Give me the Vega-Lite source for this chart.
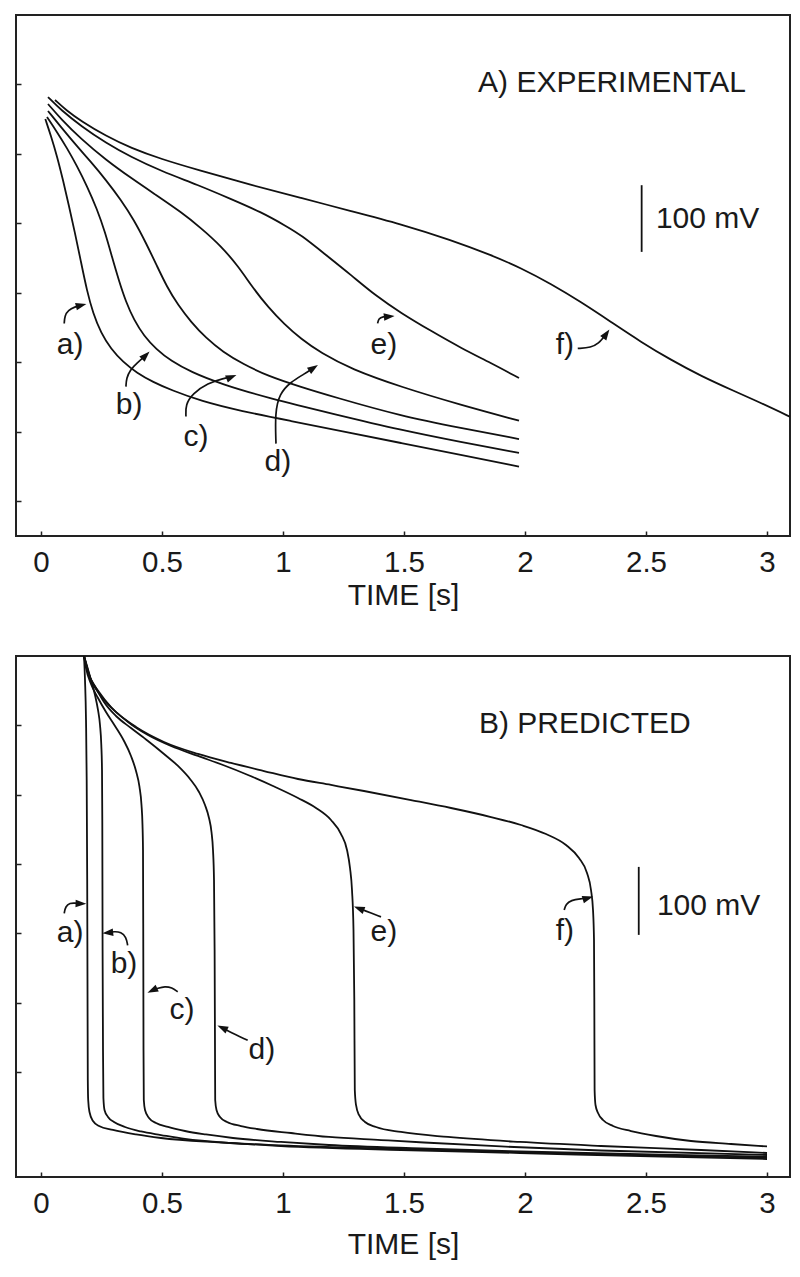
{
  "$schema": "https://vega.github.io/schema/vega-lite/v6.json",
  "background": "white",
  "padding": {"left": 14, "top": 14, "right": 5, "bottom": 5},
  "spacing": 120,
  "bounds": "flush",
  "config": {"view": {"stroke": "#222", "strokeWidth": 2}, "font": "Liberation Sans"},
  "datasets": {
    "curvesA": [
      {"c":"a","t":0.0178,"v":550.3},{"c":"a","t":0.0413,"v":525.8},{"c":"a","t":0.0661,"v":497.0},{"c":"a","t":0.0909,"v":462.5},{"c":"a","t":0.1157,"v":425.0},{"c":"a","t":0.1405,"v":386.2},{"c":"a","t":0.1653,"v":344.4},{"c":"a","t":0.1901,"v":302.7},{"c":"a","t":0.2149,"v":271.0},{"c":"a","t":0.2479,"v":242.2},{"c":"a","t":0.2893,"v":219.2},{"c":"a","t":0.3388,"v":200.5},{"c":"a","t":0.3967,"v":184.6},{"c":"a","t":0.4628,"v":171.7},{"c":"a","t":0.5372,"v":160.2},{"c":"a","t":0.6612,"v":144.3},{"c":"a","t":0.8264,"v":129.9},{"c":"a","t":1.0331,"v":115.5},{"c":"a","t":1.2397,"v":101.1},{"c":"a","t":1.4876,"v":83.9},{"c":"a","t":1.7355,"v":66.6},{"c":"a","t":1.9752,"v":49.8},
      {"c":"b","t":0.0248,"v":553.2},{"c":"b","t":0.0661,"v":531.6},{"c":"b","t":0.1074,"v":508.5},{"c":"b","t":0.1488,"v":482.6},{"c":"b","t":0.1901,"v":453.8},{"c":"b","t":0.2314,"v":420.7},{"c":"b","t":0.2645,"v":387.6},{"c":"b","t":0.2934,"v":351.6},{"c":"b","t":0.3223,"v":317.1},{"c":"b","t":0.3512,"v":286.8},{"c":"b","t":0.3843,"v":260.9},{"c":"b","t":0.4256,"v":237.9},{"c":"b","t":0.4752,"v":219.2},{"c":"b","t":0.5372,"v":201.9},{"c":"b","t":0.6198,"v":186.1},{"c":"b","t":0.7438,"v":168.8},{"c":"b","t":0.9380,"v":148.7},{"c":"b","t":1.2107,"v":125.6},{"c":"b","t":1.4876,"v":102.6},{"c":"b","t":1.7355,"v":85.3},{"c":"b","t":1.9752,"v":69.5},
      {"c":"c","t":0.0289,"v":561.8},{"c":"c","t":0.0826,"v":538.8},{"c":"c","t":0.1446,"v":512.8},{"c":"c","t":0.2066,"v":488.4},{"c":"c","t":0.2686,"v":462.5},{"c":"c","t":0.3306,"v":433.7},{"c":"c","t":0.3843,"v":404.9},{"c":"c","t":0.4339,"v":371.8},{"c":"c","t":0.4793,"v":338.7},{"c":"c","t":0.5207,"v":308.4},{"c":"c","t":0.5661,"v":282.5},{"c":"c","t":0.6198,"v":258.1},{"c":"c","t":0.6818,"v":235.0},{"c":"c","t":0.7521,"v":214.9},{"c":"c","t":0.8347,"v":197.6},{"c":"c","t":0.9380,"v":180.3},{"c":"c","t":1.0744,"v":164.5},{"c":"c","t":1.2107,"v":150.1},{"c":"c","t":1.4876,"v":122.7},{"c":"c","t":1.7355,"v":105.5},{"c":"c","t":1.9752,"v":89.6},
      {"c":"d","t":0.0289,"v":571.9},{"c":"d","t":0.0826,"v":550.3},{"c":"d","t":0.1653,"v":521.5},{"c":"d","t":0.2686,"v":491.3},{"c":"d","t":0.3719,"v":465.3},{"c":"d","t":0.4752,"v":440.9},{"c":"d","t":0.5785,"v":416.4},{"c":"d","t":0.6612,"v":393.4},{"c":"d","t":0.7438,"v":367.5},{"c":"d","t":0.8140,"v":338.7},{"c":"d","t":0.8760,"v":307.0},{"c":"d","t":0.9380,"v":279.6},{"c":"d","t":1.0041,"v":255.2},{"c":"d","t":1.0744,"v":233.6},{"c":"d","t":1.1570,"v":213.4},{"c":"d","t":1.2810,"v":190.4},{"c":"d","t":1.4876,"v":164.5},{"c":"d","t":1.7355,"v":138.6},{"c":"d","t":1.9752,"v":116.0},
      {"c":"e","t":0.0289,"v":581.9},{"c":"e","t":0.0826,"v":563.2},{"c":"e","t":0.1653,"v":540.2},{"c":"e","t":0.2686,"v":515.7},{"c":"e","t":0.3719,"v":495.6},{"c":"e","t":0.4959,"v":475.4},{"c":"e","t":0.6488,"v":455.3},{"c":"e","t":0.7851,"v":435.1},{"c":"e","t":0.9091,"v":416.4},{"c":"e","t":1.0124,"v":396.2},{"c":"e","t":1.0744,"v":383.3},{"c":"e","t":1.1777,"v":354.5},{"c":"e","t":1.2810,"v":325.7},{"c":"e","t":1.3843,"v":295.5},{"c":"e","t":1.4876,"v":271.0},{"c":"e","t":1.6116,"v":245.1},{"c":"e","t":1.7355,"v":220.6},{"c":"e","t":1.8595,"v":199.0},{"c":"e","t":1.9752,"v":177.4},
      {"c":"f","t":0.0579,"v":577.6},{"c":"f","t":0.1033,"v":563.2},{"c":"f","t":0.1653,"v":547.4},{"c":"f","t":0.2686,"v":525.8},{"c":"f","t":0.3719,"v":508.5},{"c":"f","t":0.4959,"v":492.7},{"c":"f","t":0.6488,"v":476.9},{"c":"f","t":0.8678,"v":455.3},{"c":"f","t":1.0744,"v":436.6},{"c":"f","t":1.2810,"v":417.8},{"c":"f","t":1.4876,"v":399.1},{"c":"f","t":1.6942,"v":376.1},{"c":"f","t":1.8595,"v":354.5},{"c":"f","t":1.9835,"v":335.8},{"c":"f","t":2.1074,"v":312.8},{"c":"f","t":2.2314,"v":286.8},{"c":"f","t":2.3554,"v":258.1},{"c":"f","t":2.4793,"v":229.3},{"c":"f","t":2.6033,"v":203.4},{"c":"f","t":2.7273,"v":180.3},{"c":"f","t":2.8636,"v":158.7},{"c":"f","t":2.9752,"v":141.5},{"c":"f","t":3.0950,"v":121.7},{"c":"f","t":3.1405,"v":114.1}
    ],
    "curvesB": [
      {"c":"a","t":0.1777,"v":600},{"c":"a","t":0.1818,"v":565.4},{"c":"a","t":0.1860,"v":507.8},{"c":"a","t":0.1888,"v":421.3},{"c":"a","t":0.1909,"v":277.1},{"c":"a","t":0.1921,"v":133.0},{"c":"a","t":0.1934,"v":-11.2},{"c":"a","t":0.1950,"v":-40.0},{"c":"a","t":0.2004,"v":-57.3},{"c":"a","t":0.2149,"v":-70.3},{"c":"a","t":0.2397,"v":-77.5},{"c":"a","t":0.2975,"v":-83.2},{"c":"a","t":0.3926,"v":-89.7},{"c":"a","t":0.4959,"v":-94.8},{"c":"a","t":0.7438,"v":-101.3},{"c":"a","t":0.9917,"v":-106.3},{"c":"a","t":1.4876,"v":-112.1},{"c":"a","t":1.9793,"v":-116.4},{"c":"a","t":2.5207,"v":-121.4},{"c":"a","t":3.0,"v":-125.1},
      {"c":"b","t":0.1777,"v":600},{"c":"b","t":0.1901,"v":585.6},{"c":"b","t":0.2066,"v":565.4},{"c":"b","t":0.2231,"v":543.8},{"c":"b","t":0.2355,"v":522.2},{"c":"b","t":0.2438,"v":500.6},{"c":"b","t":0.2492,"v":471.7},{"c":"b","t":0.2521,"v":435.7},{"c":"b","t":0.2533,"v":363.6},{"c":"b","t":0.2545,"v":176.2},{"c":"b","t":0.2562,"v":32.1},{"c":"b","t":0.2579,"v":-37.1},{"c":"b","t":0.2624,"v":-54.4},{"c":"b","t":0.2769,"v":-64.5},{"c":"b","t":0.3017,"v":-71.7},{"c":"b","t":0.3471,"v":-78.9},{"c":"b","t":0.4132,"v":-85.4},{"c":"b","t":0.4959,"v":-90.5},{"c":"b","t":0.5950,"v":-96.2},{"c":"b","t":0.7851,"v":-102.0},{"c":"b","t":0.9917,"v":-105.3},{"c":"b","t":1.4876,"v":-110.6},{"c":"b","t":1.9793,"v":-115.0},{"c":"b","t":2.5207,"v":-119.7},{"c":"b","t":3.0,"v":-123.6},
      {"c":"c","t":0.1777,"v":600},{"c":"c","t":0.1860,"v":582.7},{"c":"c","t":0.2066,"v":559.7},{"c":"c","t":0.2355,"v":539.5},{"c":"c","t":0.2686,"v":519.3},{"c":"c","t":0.3058,"v":499.1},{"c":"c","t":0.3430,"v":477.5},{"c":"c","t":0.3719,"v":455.9},{"c":"c","t":0.3926,"v":434.2},{"c":"c","t":0.4070,"v":411.2},{"c":"c","t":0.4153,"v":385.2},{"c":"c","t":0.4194,"v":356.4},{"c":"c","t":0.4215,"v":320.4},{"c":"c","t":0.4227,"v":176.2},{"c":"c","t":0.4236,"v":32.1},{"c":"c","t":0.4248,"v":-40.0},{"c":"c","t":0.4298,"v":-54.4},{"c":"c","t":0.4463,"v":-66.0},{"c":"c","t":0.4752,"v":-73.2},{"c":"c","t":0.5248,"v":-78.9},{"c":"c","t":0.5950,"v":-84.7},{"c":"c","t":0.6818,"v":-89.7},{"c":"c","t":0.7934,"v":-94.8},{"c":"c","t":0.9917,"v":-100.5},{"c":"c","t":1.1901,"v":-104.9},{"c":"c","t":1.5702,"v":-109.9},{"c":"c","t":1.9793,"v":-114.2},{"c":"c","t":2.5207,"v":-118.6},{"c":"c","t":3.0,"v":-121.7},
      {"c":"d","t":0.1777,"v":600},{"c":"d","t":0.1942,"v":577.0},{"c":"d","t":0.2273,"v":553.9},{"c":"d","t":0.2603,"v":533.7},{"c":"d","t":0.3099,"v":513.5},{"c":"d","t":0.3719,"v":496.2},{"c":"d","t":0.4421,"v":477.5},{"c":"d","t":0.5083,"v":458.8},{"c":"d","t":0.5661,"v":441.5},{"c":"d","t":0.6157,"v":422.7},{"c":"d","t":0.6529,"v":404.0},{"c":"d","t":0.6777,"v":385.2},{"c":"d","t":0.6942,"v":366.5},{"c":"d","t":0.7045,"v":346.3},{"c":"d","t":0.7107,"v":320.4},{"c":"d","t":0.7149,"v":277.1},{"c":"d","t":0.7174,"v":176.2},{"c":"d","t":0.7190,"v":32.1},{"c":"d","t":0.7198,"v":-40.0},{"c":"d","t":0.7252,"v":-54.4},{"c":"d","t":0.7397,"v":-64.5},{"c":"d","t":0.7686,"v":-71.7},{"c":"d","t":0.8264,"v":-77.5},{"c":"d","t":0.8926,"v":-81.8},{"c":"d","t":1.0331,"v":-87.6},{"c":"d","t":1.1901,"v":-93.3},{"c":"d","t":1.4050,"v":-97.7},{"c":"d","t":1.5826,"v":-101.3},{"c":"d","t":1.9008,"v":-107.0},{"c":"d","t":2.3140,"v":-112.8},{"c":"d","t":3.0,"v":-119.3},
      {"c":"e","t":0.1777,"v":600},{"c":"e","t":0.1983,"v":572.6},{"c":"e","t":0.2397,"v":548.1},{"c":"e","t":0.2893,"v":526.5},{"c":"e","t":0.3595,"v":504.9},{"c":"e","t":0.4421,"v":486.1},{"c":"e","t":0.5372,"v":470.3},{"c":"e","t":0.6488,"v":455.9},{"c":"e","t":0.7521,"v":442.9},{"c":"e","t":0.8554,"v":428.5},{"c":"e","t":0.9587,"v":412.6},{"c":"e","t":1.0620,"v":395.3},{"c":"e","t":1.1364,"v":380.9},{"c":"e","t":1.1983,"v":363.6},{"c":"e","t":1.2397,"v":343.4},{"c":"e","t":1.2645,"v":320.4},{"c":"e","t":1.2769,"v":294.4},{"c":"e","t":1.2851,"v":262.7},{"c":"e","t":1.2913,"v":205.1},{"c":"e","t":1.2946,"v":104.1},{"c":"e","t":1.2967,"v":-25.6},{"c":"e","t":1.3017,"v":-47.2},{"c":"e","t":1.3140,"v":-61.6},{"c":"e","t":1.3388,"v":-71.7},{"c":"e","t":1.3843,"v":-78.9},{"c":"e","t":1.4876,"v":-86.1},{"c":"e","t":1.6818,"v":-93.3},{"c":"e","t":1.9793,"v":-100.5},{"c":"e","t":2.3140,"v":-106.3},{"c":"e","t":2.7273,"v":-112.1},{"c":"e","t":3.0,"v":-116.4},
      {"c":"f","t":0.1777,"v":600},{"c":"f","t":0.2066,"v":565.4},{"c":"f","t":0.2479,"v":542.4},{"c":"f","t":0.3140,"v":517.9},{"c":"f","t":0.3926,"v":497.7},{"c":"f","t":0.5083,"v":476.1},{"c":"f","t":0.6488,"v":458.8},{"c":"f","t":0.7851,"v":445.8},{"c":"f","t":0.9215,"v":434.2},{"c":"f","t":1.0620,"v":422.7},{"c":"f","t":1.1983,"v":414.1},{"c":"f","t":1.3347,"v":405.4},{"c":"f","t":1.5289,"v":392.4},{"c":"f","t":1.6942,"v":380.9},{"c":"f","t":1.8595,"v":367.9},{"c":"f","t":1.9835,"v":356.4},{"c":"f","t":2.0868,"v":343.4},{"c":"f","t":2.1694,"v":327.6},{"c":"f","t":2.2231,"v":308.8},{"c":"f","t":2.2562,"v":287.2},{"c":"f","t":2.2727,"v":262.7},{"c":"f","t":2.2810,"v":233.9},{"c":"f","t":2.2851,"v":190.6},{"c":"f","t":2.2864,"v":104.1},{"c":"f","t":2.2876,"v":-25.6},{"c":"f","t":2.2913,"v":-47.2},{"c":"f","t":2.3017,"v":-58.7},{"c":"f","t":2.3223,"v":-68.8},{"c":"f","t":2.3636,"v":-77.5},{"c":"f","t":2.4380,"v":-84.7},{"c":"f","t":2.5413,"v":-91.9},{"c":"f","t":2.6860,"v":-99.1},{"c":"f","t":2.8512,"v":-103.4},{"c":"f","t":3.0,"v":-107.0}
    ],
    "arrowsA": [
      {"id":"a","i":0,"t":0.096,"v":256},{"id":"a","i":1,"t":0.098,"v":267},{"id":"a","i":2,"t":0.112,"v":275},{"id":"a","i":3,"t":0.140,"v":280},{"id":"a","i":4,"t":0.166,"v":282},
      {"id":"b","i":0,"t":0.351,"v":165},{"id":"b","i":1,"t":0.353,"v":177},{"id":"b","i":2,"t":0.368,"v":189},{"id":"b","i":3,"t":0.397,"v":199},{"id":"b","i":4,"t":0.433,"v":210},
      {"id":"c","i":0,"t":0.599,"v":122},{"id":"c","i":1,"t":0.597,"v":139},{"id":"c","i":2,"t":0.627,"v":155},{"id":"c","i":3,"t":0.689,"v":170},{"id":"c","i":4,"t":0.756,"v":177},{"id":"c","i":5,"t":0.787,"v":179},
      {"id":"d","i":0,"t":0.971,"v":83},{"id":"d","i":1,"t":0.967,"v":127},{"id":"d","i":2,"t":0.985,"v":155},{"id":"d","i":3,"t":1.033,"v":172},{"id":"d","i":4,"t":1.087,"v":183},{"id":"d","i":5,"t":1.126,"v":192},
      {"id":"e","i":0,"t":1.391,"v":256},{"id":"e","i":1,"t":1.395,"v":263},{"id":"e","i":2,"t":1.413,"v":266},{"id":"e","i":3,"t":1.439,"v":266},
      {"id":"f","i":0,"t":2.218,"v":220},{"id":"f","i":1,"t":2.273,"v":221},{"id":"f","i":2,"t":2.306,"v":228},{"id":"f","i":3,"t":2.322,"v":235},{"id":"f","i":4,"t":2.336,"v":241}
    ],
    "headsA": [
      {"t":0.166,"v":282,"ang":76},{"t":0.433,"v":210,"ang":45},{"t":0.787,"v":179,"ang":68},{"t":1.126,"v":192,"ang":56},{"t":1.439,"v":266,"ang":84},{"t":2.336,"v":241,"ang":35}
    ],
    "labelsA": [
      {"t":0.120,"v":225,"txt":"a)"},{"t":0.364,"v":139,"txt":"b)"},{"t":0.640,"v":92,"txt":"c)"},{"t":0.979,"v":56,"txt":"d)"},{"t":1.417,"v":225,"txt":"e)"},{"t":2.165,"v":225,"txt":"f)"}
    ],
    "notesA": [
      {"t":1.806,"v":589,"txt":"A) EXPERIMENTAL"},{"t":2.541,"v":394,"txt":"100 mV"}
    ],
    "barA": [{"t":2.482,"v":359,"v2":455}],
    "arrowsB": [
      {"id":"a","i":0,"t":0.096,"v":229},{"id":"a","i":1,"t":0.101,"v":239},{"id":"a","i":2,"t":0.120,"v":244},{"id":"a","i":3,"t":0.140,"v":244},{"id":"a","i":4,"t":0.165,"v":243},
      {"id":"b","i":0,"t":0.358,"v":183},{"id":"b","i":1,"t":0.352,"v":195},{"id":"b","i":2,"t":0.331,"v":202},{"id":"b","i":3,"t":0.302,"v":203},{"id":"b","i":4,"t":0.276,"v":201},
      {"id":"c","i":0,"t":0.565,"v":116},{"id":"c","i":1,"t":0.541,"v":122},{"id":"c","i":2,"t":0.512,"v":124},{"id":"c","i":3,"t":0.483,"v":121},{"id":"c","i":4,"t":0.460,"v":118},
      {"id":"d","i":0,"t":0.854,"v":46},{"id":"d","i":1,"t":0.769,"v":60},{"id":"d","i":2,"t":0.749,"v":64},
      {"id":"e","i":0,"t":1.405,"v":224},{"id":"e","i":1,"t":1.331,"v":234},{"id":"e","i":2,"t":1.314,"v":236},
      {"id":"f","i":0,"t":2.162,"v":234},{"id":"f","i":1,"t":2.169,"v":242},{"id":"f","i":2,"t":2.190,"v":248},{"id":"f","i":3,"t":2.231,"v":250},{"id":"f","i":4,"t":2.260,"v":251}
    ],
    "headsB": [
      {"t":0.165,"v":243,"ang":92},{"t":0.276,"v":201,"ang":264},{"t":0.460,"v":118,"ang":245},{"t":0.749,"v":64,"ang":295},{"t":1.314,"v":236,"ang":291},{"t":2.260,"v":251,"ang":73}
    ],
    "labelsB": [
      {"t":0.120,"v":201,"txt":"a)"},{"t":0.343,"v":156,"txt":"b)"},{"t":0.583,"v":90,"txt":"c)"},{"t":0.913,"v":32,"txt":"d)"},{"t":1.417,"v":202,"txt":"e)"},{"t":2.165,"v":204,"txt":"f)"}
    ],
    "notesB": [
      {"t":1.810,"v":489,"txt":"B) PREDICTED"},{"t":2.545,"v":227,"txt":"100 mV"}
    ],
    "barB": [{"t":2.470,"v":198,"v2":296}]
  },
  "vconcat": [
    {
      "width": 774,
      "height": 521,
      "encoding": {
        "x": {"field": "t", "type": "quantitative", "scale": {"domain": [-0.1033, 3.095], "nice": false, "zero": false},
          "axis": {"values": [0,0.5,1,1.5,2,2.5,3], "format": "~g", "title": "TIME [s]", "domain": false, "grid": false, "tickSize": -5, "tickColor": "#222", "tickWidth": 1.5, "labelFontSize": 29.5, "labelFont": "Liberation Sans", "labelColor": "#1a1a1a", "labelPadding": 17, "labelFlush": false, "labelOverlap": false, "titleFontSize": 30, "titleFont": "Liberation Sans", "titleFontWeight": "normal", "titleColor": "#1a1a1a", "titlePadding": 4}},
        "y": {"field": "v", "type": "quantitative", "scale": {"domain": [-50, 700], "nice": false, "zero": false},
          "axis": {"values": [0,100,200,300,400,500,600], "labels": false, "title": null, "domain": false, "grid": false, "tickSize": -5, "tickColor": "#222", "tickWidth": 1.5}}
      },
      "layer": [
        {"data": {"name": "curvesA"}, "mark": {"type": "line", "clip": true, "interpolate": "basis", "color": "#111", "strokeWidth": 1.8}, "encoding": {"detail": {"field": "c"}}},
        {"data": {"name": "arrowsA"}, "mark": {"type": "line", "interpolate": "basis", "color": "#111", "strokeWidth": 1.7}, "encoding": {"detail": {"field": "id"}, "order": {"field": "i", "type": "quantitative"}}},
        {"data": {"name": "headsA"}, "mark": {"type": "point", "shape": "M0,-1L0.7,1L-0.7,1Z", "filled": true, "size": 115, "color": "#111", "opacity": 1, "strokeWidth": 0}, "encoding": {"angle": {"field": "ang", "type": "quantitative", "scale": null}}},
        {"data": {"name": "labelsA"}, "mark": {"type": "text", "fontSize": 30, "font": "Liberation Sans", "color": "#1a1a1a", "align": "center", "baseline": "middle"}, "encoding": {"text": {"field": "txt"}}},
        {"data": {"name": "notesA"}, "mark": {"type": "text", "fontSize": 30, "font": "Liberation Sans", "color": "#1a1a1a", "align": "left", "baseline": "alphabetic"}, "encoding": {"text": {"field": "txt"}}},
        {"data": {"name": "barA"}, "mark": {"type": "rule", "color": "#111", "strokeWidth": 1.8}, "encoding": {"y2": {"field": "v2"}}}
      ]
    },
    {
      "width": 774,
      "height": 521,
      "encoding": {
        "x": {"field": "t", "type": "quantitative", "scale": {"domain": [-0.1033, 3.095], "nice": false, "zero": false},
          "axis": {"values": [0,0.5,1,1.5,2,2.5,3], "format": "~g", "title": "TIME [s]", "domain": false, "grid": false, "tickSize": -5, "tickColor": "#222", "tickWidth": 1.5, "labelFontSize": 29.5, "labelFont": "Liberation Sans", "labelColor": "#1a1a1a", "labelPadding": 17, "labelFlush": false, "labelOverlap": false, "titleFontSize": 30, "titleFont": "Liberation Sans", "titleFontWeight": "normal", "titleColor": "#1a1a1a", "titlePadding": 12}},
        "y": {"field": "v", "type": "quantitative", "scale": {"domain": [-151, 600], "nice": false, "zero": false},
          "axis": {"values": [0,100,200,300,400,500], "labels": false, "title": null, "domain": false, "grid": false, "tickSize": -5, "tickColor": "#222", "tickWidth": 1.5}}
      },
      "layer": [
        {"data": {"name": "curvesB"}, "mark": {"type": "line", "clip": true, "interpolate": "monotone", "color": "#111", "strokeWidth": 1.8}, "encoding": {"detail": {"field": "c"}}},
        {"data": {"name": "arrowsB"}, "mark": {"type": "line", "interpolate": "basis", "color": "#111", "strokeWidth": 1.7}, "encoding": {"detail": {"field": "id"}, "order": {"field": "i", "type": "quantitative"}}},
        {"data": {"name": "headsB"}, "mark": {"type": "point", "shape": "M0,-1L0.7,1L-0.7,1Z", "filled": true, "size": 115, "color": "#111", "opacity": 1, "strokeWidth": 0}, "encoding": {"angle": {"field": "ang", "type": "quantitative", "scale": null}}},
        {"data": {"name": "labelsB"}, "mark": {"type": "text", "fontSize": 30, "font": "Liberation Sans", "color": "#1a1a1a", "align": "center", "baseline": "middle"}, "encoding": {"text": {"field": "txt"}}},
        {"data": {"name": "notesB"}, "mark": {"type": "text", "fontSize": 30, "font": "Liberation Sans", "color": "#1a1a1a", "align": "left", "baseline": "alphabetic"}, "encoding": {"text": {"field": "txt"}}},
        {"data": {"name": "barB"}, "mark": {"type": "rule", "color": "#111", "strokeWidth": 1.8}, "encoding": {"y2": {"field": "v2"}}}
      ]
    }
  ]
}
